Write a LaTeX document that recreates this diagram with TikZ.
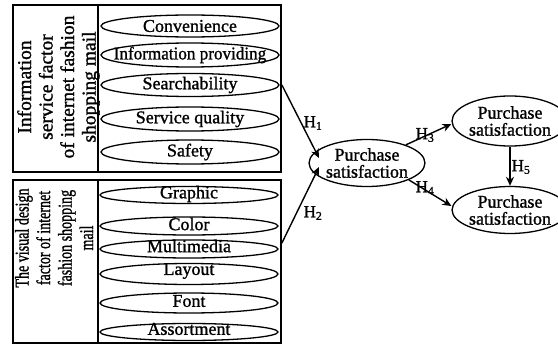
\documentclass[tikz,border=0pt]{standalone}
\usepackage{graphicx}
\usepackage{fontspec}
\setmainfont[FakeBold=1.2]{Liberation Serif}
\usetikzlibrary{shapes.geometric,arrows.meta}
\begin{document}
\begin{tikzpicture}[x=1pt,y=-1pt,
  frame/.style={draw,line width=1.8pt,rectangle,inner sep=0pt},
  oval/.style={draw,ellipse,line width=1.3pt,inner sep=0pt,minimum width=178pt},
  big/.style={font=\fontsize{18}{20}\selectfont,inner sep=0pt},
  lab/.style={font=\fontsize{19.5}{21.5}\selectfont,inner sep=0pt},
  hyp/.style={font=\fontsize{17}{17}\selectfont,inner sep=0pt},
  arr/.style={line width=1.4pt,-{Stealth[length=9pt,width=8pt]}},
  ps/.style={draw,ellipse,line width=1.3pt,inner sep=0pt,align=center,font=\fontsize{18}{17}\selectfont}]
\useasboundingbox (0,0) rectangle (558,345);
% frames
\node[frame,minimum width=268pt,minimum height=167pt] (top) at (147,88.5) {};
\node[frame,minimum width=268pt,minimum height=163pt] (bot) at (147,261.5) {};
\coordinate (d1) at (98,5);
\coordinate (d2) at (98,172);
\coordinate (d3) at (98,180);
\coordinate (d4) at (98,343);
\draw[line width=1.8pt] (d1) -- (d2);
\draw[line width=1.8pt] (d3) -- (d4);
% rotated labels
\node[lab,rotate=90,align=center] (ltop) at (58.5,87) {Information\\service factor\\of internet fashion\\shopping mail};
\node[lab,rotate=90] (lbot) at (56.5,238) {\scalebox{0.72}[1]{\begin{tabular}{@{}c@{}}The visual design\\factor of internet\\fashion shopping\\mail\end{tabular}}};
% top ellipses
\node[oval,minimum height=22pt] (e1) at (190,26) {};
\node[big] (t1) at (e1) {Convenience};
\node[oval,minimum height=24pt] (e2) at (190,55) {};
\node[big] (t2) at (e2) {\scalebox{0.95}[1]{Information providing}};
\node[oval,minimum height=23pt] (e3) at (190,85) {};
\node[big] (t3) at (e3) {Searchability};
\node[oval,minimum height=24pt] (e4) at (190,119) {};
\node[big] (t4) at (e4) {Service quality};
\node[oval,minimum height=24pt] (e5) at (190,152) {};
\node[big] (t5) at (e5) {Safety};
% bottom ellipses
\node[oval,minimum height=17pt] (f1) at (189,195) {};
\node[big] (s1) at (189,194) {Graphic};
\node[oval,minimum height=18pt] (f2) at (189,226) {};
\node[big] (s2) at (189,224) {Color};
\node[oval,minimum height=18pt] (f3) at (189,249) {};
\node[big] (s3) at (189,246) {Multimedia};
\node[oval,minimum height=21pt] (f4) at (189,274) {};
\node[big] (s4) at (189,271) {Layout};
\node[oval,minimum height=20pt] (f5) at (189,303) {};
\node[big] (s5) at (189,301) {Font};
\node[oval,minimum height=17pt] (f6) at (189,332) {};
\node[big] (s6) at (189,329) {Assortment};
% satisfaction ellipses
\node[ps,minimum width=100pt,minimum height=47pt] (c) at (367,163) {Purchase\\satisfaction};
\node[ps,minimum width=97pt,minimum height=50pt] (r1) at (510,121) {Purchase\\satisfaction};
\node[ps,minimum width=97pt,minimum height=47pt] (r2) at (510,210) {Purchase\\satisfaction};
% arrow anchors
\coordinate (a1) at (top.east |- 0,85);
\coordinate (a2) at (bot.east |- 0,243);
\coordinate (b1) at (319,158);
\coordinate (b2) at (319,167);
\draw[arr] (a1) -- (b1);
\draw[arr] (a2) -- (b2);
\draw[arr] (c.25) -- (r1.west |- 0,124);
\draw[arr] (c.-22) -- (r2.west |- 0,206);
\draw[arr] (r1.south) -- (r2.north);
% hypothesis labels
\node[hyp] (h1) at (313,123) {H\textsubscript{1}};
\node[hyp] (h2) at (313,213) {H\textsubscript{2}};
\node[hyp] (h3) at (425,135) {H\textsubscript{3}};
\node[hyp] (h4) at (425,188) {H\textsubscript{4}};
\node[hyp] (h5) at (521,167) {H\textsubscript{5}};
\end{tikzpicture}
\end{document}
